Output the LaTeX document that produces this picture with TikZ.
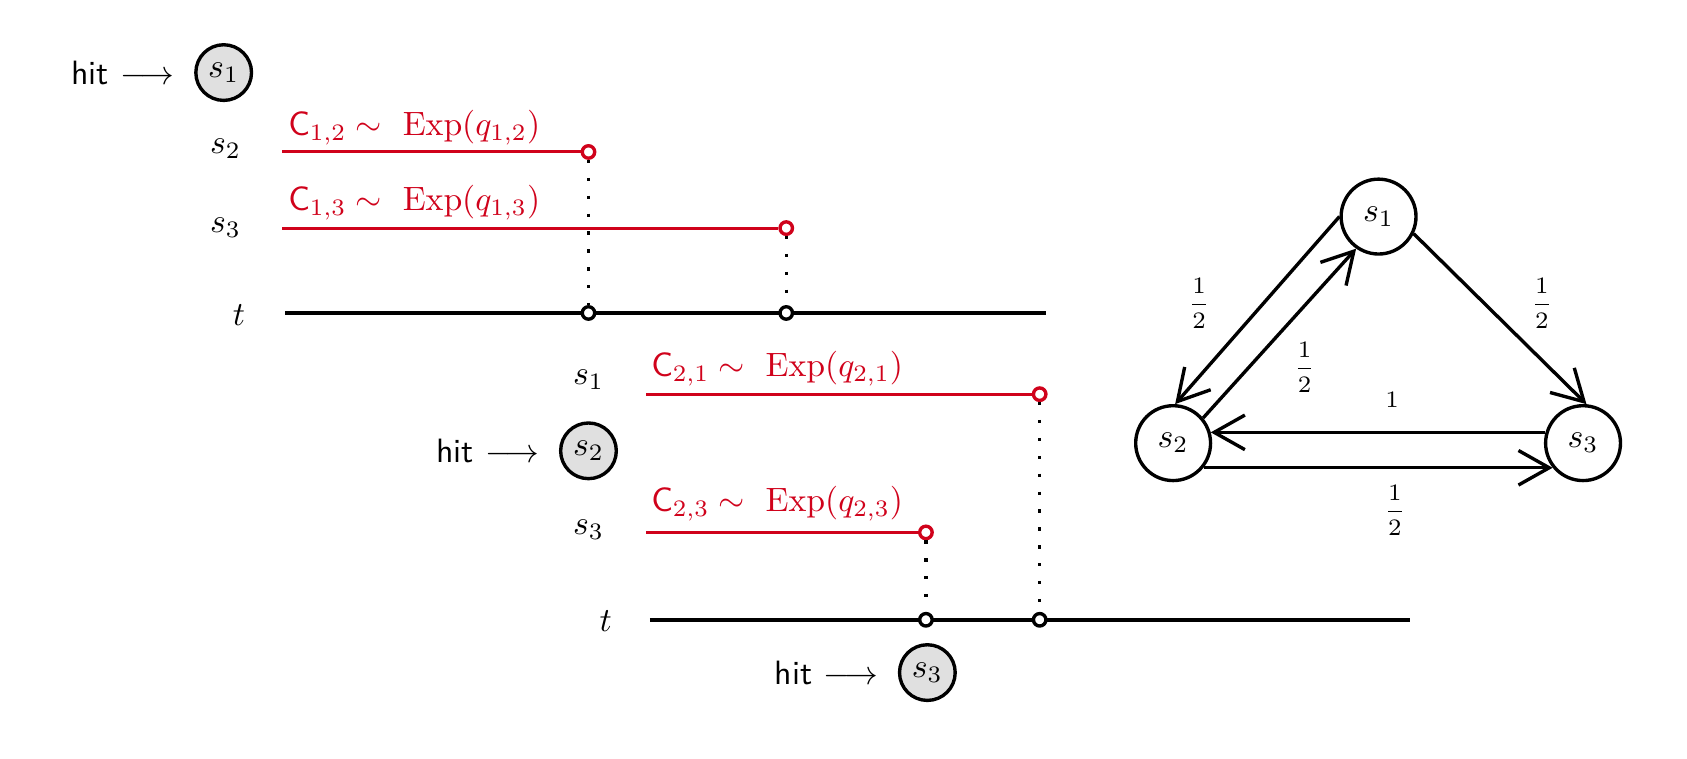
\documentclass[tikz,border=0pt]{standalone}
\usepackage{amsmath}
\usepackage{amssymb}
\usetikzlibrary{arrows.meta,positioning}
\definecolor{jumpred}{HTML}{D0021B}

\begin{document}
\begin{tikzpicture}[
	hitstate/.style={circle, draw, line width=1pt, fill=black!12, minimum size=5.8mm, inner sep=0pt},
	chainstate/.style={circle, draw, line width=1pt, minimum size=7.8mm, inner sep=0pt},
	ring/.style={circle, draw, line width=1pt, fill=white, minimum size=1.3mm, inner sep=0pt},
	redline/.style={line width=0.9pt, jumpred},
	axis/.style={line width=1.2pt},
	drop/.style={line width=1pt, dash pattern=on 1pt off 4.3pt},
	trans/.style={line width=1pt, -{Straight Barb[length=3.2mm,width=3.6mm]}},
	rate/.style={font=\scriptsize}]

	\useasboundingbox (0,0) rectangle (17.573,7.906);

	% first jump, leaving s1
	\node[hitstate] (hit1) at (2.33,7.15) {$s_1$};
	\node[left=0.8mm of hit1] (hitlab1) {\textsf{hit} $\longrightarrow$};

	\node (lab12) at (2.35,6.36) {$s_2$};
	\node (lab13) at (2.35,5.53) {$s_3$};
	\node (t1) at (2.49,4.62) {$t$};

	\coordinate (a12) at (2.94,6.323);
	\coordinate (a13) at (2.94,5.53);
	\coordinate (ta1) at (2.97,4.646);
	\coordinate (tb1) at (10.90,4.646);

	\draw[axis] (ta1) -- (tb1);
	\node[ring, draw=jumpred] (e12) at (6.13,6.323) {};
	\node[ring, draw=jumpred] (e13) at (8.19,5.53) {};
	\draw[redline] (a12) -- (e12);
	\draw[redline] (a13) -- (e13);
	\node[anchor=west, text=jumpred] (c12) at (2.88,6.58) {$\mathsf{C}_{1,2} \sim~ \mathrm{Exp}(q_{1,2})$};
	\node[anchor=west, text=jumpred] (c13) at (2.88,5.80) {$\mathsf{C}_{1,3} \sim~ \mathrm{Exp}(q_{1,3})$};

	\node[ring] (r12) at (6.13,4.646) {};
	\node[ring] (r13) at (8.19,4.646) {};
	\draw[drop] (e12) -- (r12);
	\draw[drop] (e13) -- (r13);

	% second jump, leaving s2
	\node[hitstate] (hit2) at (6.13,3.21) {$s_2$};
	\node[left=0.8mm of hit2] (hitlab2) {\textsf{hit} $\longrightarrow$};

	\node (lab21) at (6.13,3.95) {$s_1$};
	\node (lab23) at (6.13,2.39) {$s_3$};
	\node (t2) at (6.31,1.44) {$t$};

	\coordinate (a21) at (6.73,3.80);
	\coordinate (a23) at (6.73,2.36);
	\coordinate (ta2) at (6.77,1.45);
	\coordinate (tb2) at (14.69,1.45);

	\draw[axis] (ta2) -- (tb2);
	\node[ring, draw=jumpred] (e21) at (10.83,3.80) {};
	\node[ring, draw=jumpred] (e23) at (9.645,2.36) {};
	\draw[redline] (a21) -- (e21);
	\draw[redline] (a23) -- (e23);
	\node[anchor=west, text=jumpred] (c21) at (6.66,4.07) {$\mathsf{C}_{2,1} \sim~ \mathrm{Exp}(q_{2,1})$};
	\node[anchor=west, text=jumpred] (c23) at (6.66,2.66) {$\mathsf{C}_{2,3} \sim~ \mathrm{Exp}(q_{2,3})$};

	\node[ring] (r21) at (10.83,1.45) {};
	\node[ring] (r23) at (9.645,1.45) {};
	\draw[drop] (e21) -- (r21);
	\draw[drop] (e23) -- (r23);

	% landing in s3
	\node[hitstate] (hit3) at (9.66,0.90) {$s_3$};
	\node[left=0.8mm of hit3] (hitlab3) {\textsf{hit} $\longrightarrow$};

	% jump chain
	\node[chainstate] (m1) at (14.36,5.65) {$s_1$};
	\node[chainstate] (m2) at (12.22,3.29) {$s_2$};
	\node[chainstate] (m3) at (16.49,3.29) {$s_3$};

	\draw[trans] (m1.180) -- (m2.87);
	\draw[trans] (m2.40) -- (m1.235);
	\draw[trans] (m1.-26) -- (m3.85);
	\draw[trans] (m3.164) -- (m2.16);
	\draw[trans] (m2.-39) -- (m3.219);

	\node[rate] (w12) at (12.49,4.75) {$\dfrac{1}{2}$};
	\node[rate] (w21) at (13.59,4.08) {$\dfrac{1}{2}$};
	\node[rate] (w13) at (16.06,4.75) {$\dfrac{1}{2}$};
	\node[rate] (w32) at (14.50,3.74) {$1$};
	\node[rate] (w23) at (14.53,2.59) {$\dfrac{1}{2}$};

\end{tikzpicture}
\end{document}
